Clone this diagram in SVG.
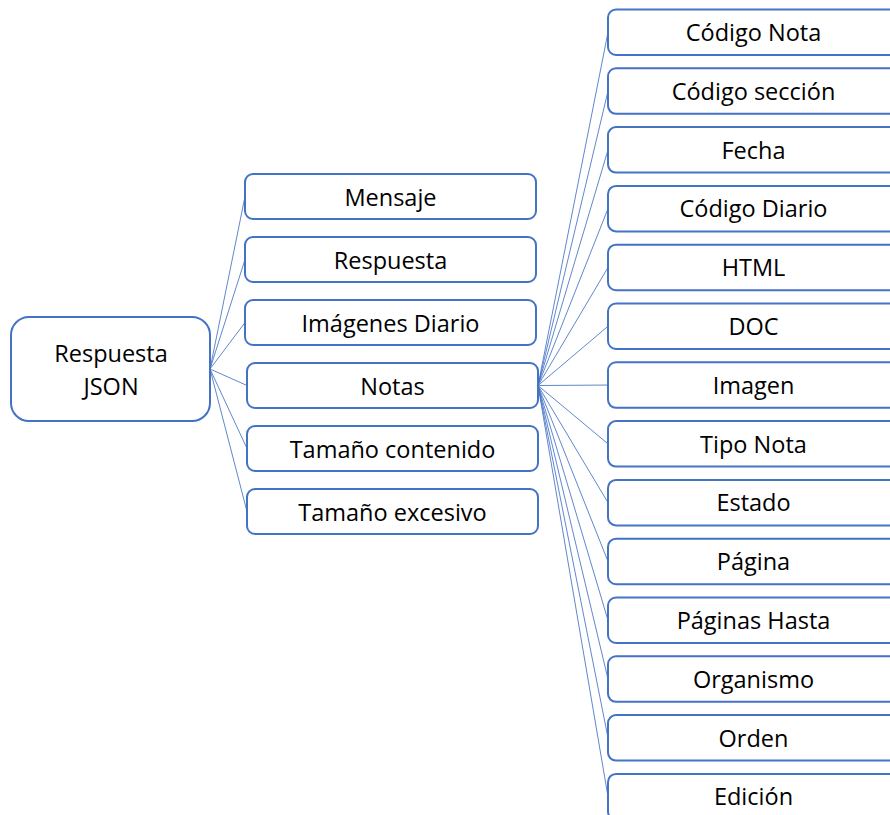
<svg xmlns="http://www.w3.org/2000/svg" width="890" height="815" viewBox="0 0 890 815">
<style>
.box{fill:#fff;stroke:#4472C4;stroke-width:2}
.lbl{font-family:"Open Sans","Noto Sans",sans-serif;font-size:23.5px;fill:#000;text-anchor:middle}
.con line{stroke:#4472C4;stroke-width:1;stroke-opacity:0.85}
</style>
<rect width="890" height="815" fill="#fff"/>
<g id="connectors" class="con">
<line x1="210" y1="369" x2="245" y2="196.5"/>
<line x1="210" y1="369" x2="245" y2="259.5"/>
<line x1="210" y1="369" x2="245" y2="322.5"/>
<line x1="210" y1="369" x2="247" y2="385.5"/>
<line x1="210" y1="369" x2="247" y2="448.5"/>
<line x1="210" y1="369" x2="247" y2="511.5"/>
<line x1="538" y1="385.5" x2="608" y2="32.25"/>
<line x1="538" y1="385.5" x2="608" y2="91.05"/>
<line x1="538" y1="385.5" x2="608" y2="149.85"/>
<line x1="538" y1="385.5" x2="608" y2="208.65"/>
<line x1="538" y1="385.5" x2="608" y2="267.45"/>
<line x1="538" y1="385.5" x2="608" y2="326.25"/>
<line x1="538" y1="385.5" x2="608" y2="385.05"/>
<line x1="538" y1="385.5" x2="608" y2="443.85"/>
<line x1="538" y1="385.5" x2="608" y2="502.65"/>
<line x1="538" y1="385.5" x2="608" y2="561.45"/>
<line x1="538" y1="385.5" x2="608" y2="620.25"/>
<line x1="538" y1="385.5" x2="608" y2="679.05"/>
<line x1="538" y1="385.5" x2="608" y2="737.85"/>
<line x1="538" y1="385.5" x2="608" y2="796.65"/>
</g>
<g id="root"><rect class="box" x="11" y="317" width="199" height="104" rx="18"/><text class="lbl" x="111" y="362">Respuesta</text><text class="lbl" x="111" y="395">JSON</text></g>
<g id="mensaje"><rect class="box" x="245" y="174" width="291" height="45" rx="8"/><text class="lbl" x="390.5" y="205.5">Mensaje</text></g>
<g id="respuesta"><rect class="box" x="245" y="237" width="291" height="45" rx="8"/><text class="lbl" x="390.5" y="268.5">Respuesta</text></g>
<g id="imagenes"><rect class="box" x="245" y="300" width="291" height="45" rx="8"/><text class="lbl" x="390.5" y="331.5">Imágenes Diario</text></g>
<g id="notas"><rect class="box" x="247" y="363" width="291" height="45" rx="8"/><text class="lbl" x="392.5" y="394.5">Notas</text></g>
<g id="tamcont"><rect class="box" x="247" y="426" width="291" height="45" rx="8"/><text class="lbl" x="392.5" y="457.5">Tamaño contenido</text></g>
<g id="tamexc"><rect class="box" x="247" y="489" width="291" height="45" rx="8"/><text class="lbl" x="392.5" y="520.5">Tamaño excesivo</text></g>
<g id="n0"><rect class="box" x="608" y="9.5" width="291" height="45.5" rx="8"/><text class="lbl" x="753.5" y="41">Código Nota</text></g>
<g id="n1"><rect class="box" x="608" y="68.3" width="291" height="45.5" rx="8"/><text class="lbl" x="753.5" y="99.8">Código sección</text></g>
<g id="n2"><rect class="box" x="608" y="127.1" width="291" height="45.5" rx="8"/><text class="lbl" x="753.5" y="158.6">Fecha</text></g>
<g id="n3"><rect class="box" x="608" y="185.9" width="291" height="45.5" rx="8"/><text class="lbl" x="753.5" y="217.4">Código Diario</text></g>
<g id="n4"><rect class="box" x="608" y="244.7" width="291" height="45.5" rx="8"/><text class="lbl" x="753.5" y="276.2">HTML</text></g>
<g id="n5"><rect class="box" x="608" y="303.5" width="291" height="45.5" rx="8"/><text class="lbl" x="753.5" y="335">DOC</text></g>
<g id="n6"><rect class="box" x="608" y="362.3" width="291" height="45.5" rx="8"/><text class="lbl" x="753.5" y="393.8">Imagen</text></g>
<g id="n7"><rect class="box" x="608" y="421.1" width="291" height="45.5" rx="8"/><text class="lbl" x="753.5" y="452.6">Tipo Nota</text></g>
<g id="n8"><rect class="box" x="608" y="479.9" width="291" height="45.5" rx="8"/><text class="lbl" x="753.5" y="511.4">Estado</text></g>
<g id="n9"><rect class="box" x="608" y="538.7" width="291" height="45.5" rx="8"/><text class="lbl" x="753.5" y="570.2">Página</text></g>
<g id="n10"><rect class="box" x="608" y="597.5" width="291" height="45.5" rx="8"/><text class="lbl" x="753.5" y="629">Páginas Hasta</text></g>
<g id="n11"><rect class="box" x="608" y="656.3" width="291" height="45.5" rx="8"/><text class="lbl" x="753.5" y="687.8">Organismo</text></g>
<g id="n12"><rect class="box" x="608" y="715.1" width="291" height="45.5" rx="8"/><text class="lbl" x="753.5" y="746.6">Orden</text></g>
<g id="n13"><rect class="box" x="608" y="773.9" width="291" height="45.5" rx="8"/><text class="lbl" x="753.5" y="805.4">Edición</text></g>
</svg>
